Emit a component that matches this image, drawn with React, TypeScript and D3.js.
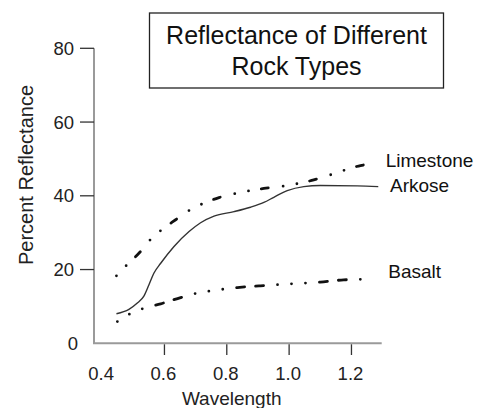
import React from "react";
import * as d3 from "d3";

// values
const limestoneWave = [0.446, 0.479, 0.518, 0.556, 0.593, 0.636, 0.679, 0.721, 0.775, 0.844, 0.919, 0.972, 1.015, 1.079, 1.122, 1.165, 1.229, 1.28];
const limestone = [18.3, 21.2, 24.4, 28.2, 30.9, 33.5, 36, 37.8, 39.5, 40.9, 42, 42.5, 43.1, 44.3, 45.4, 46.6, 48.2, 48.8];

const arkoseWave = [0.446, 0.486, 0.513, 0.534, 0.55, 0.566, 0.588, 0.63, 0.679, 0.716, 0.759, 0.823, 0.876, 0.919, 0.951, 0.994, 1.047, 1.1, 1.218, 1.286];
const arkose = [8.0, 9.2, 10.9, 12.8, 15.8, 19, 21.7, 26.2, 30.3, 32.7, 34.5, 35.7, 36.9, 38.2, 39.6, 41.4, 42.5, 42.8, 42.7, 42.5];

const basaltWave = [0.449, 0.492, 0.534, 0.588, 0.652, 0.705, 0.748, 0.834, 0.908, 1.004, 1.1, 1.175, 1.271];
const basalt = [5.9, 8.1, 9.5, 10.7, 12.4, 13.6, 14.2, 15.1, 15.6, 16.1, 16.6, 17.2, 17.4];

const xTicks = [0.4, 0.6, 0.8, 1.0, 1.2];
const xTickMarks = [0.6, 0.8, 1.0, 1.2];
const yTicks = [0, 20, 40, 60, 80];
const yTickMarks = [20, 40, 60, 80];
const titleLines = ["Reflectance of Different", "Rock Types"];

const font = "'Liberation Sans', Arial, sans-serif";

export default function App() {
  const w = 482;
  const h = 408;

  const x = d3.scaleLinear().domain([0.374, 1.297]).range([94, 381.7]);
  const y = d3.scaleLinear().domain([0, 80]).range([343.3, 48.3]);

  const line = d3
    .line<[number, number]>()
    .x((d) => x(d[0]))
    .y((d) => y(d[1]))
    .curve(d3.curveMonotoneX);

  const pts = (xs: number[], ys: number[]) => xs.map((v, i) => [v, ys[i]] as [number, number]);

  return (
    <div style={{ position: "absolute", left: 0, top: 0 }}>
      <svg width={w} height={h} style={{ display: "block", background: "#fff" }} fontFamily={font}>
        {/* axes */}
        <line x1={x.range()[0]} x2={x.range()[0]} y1={y(80)} y2={y(0)} stroke="#9a9a9a" strokeWidth={2} />
        <line x1={x.range()[0] - 1} x2={x.range()[1]} y1={y(0)} y2={y(0)} stroke="#9a9a9a" strokeWidth={2} />

        {yTickMarks.map((t) => (
          <line key={"yt" + t} x1={80} x2={94} y1={y(t)} y2={y(t)} stroke="#333" strokeWidth={1.3} />
        ))}
        {yTicks.map((t) => (
          <text key={"yl" + t} x={t === 0 ? 78 : 74} y={y(t)} dy="0.36em" textAnchor="end" fontSize={18.5} fill="#222">
            {t}
          </text>
        ))}

        {xTickMarks.map((t) => (
          <line key={"xt" + t} x1={x(t)} x2={x(t)} y1={y(0) + 1} y2={355} stroke="#333" strokeWidth={1.3} />
        ))}
        {xTicks.map((t) => (
          <text key={"xl" + t} x={x(t) - 1} y={380} textAnchor="middle" fontSize={18.5} fill="#222">
            {t.toFixed(1)}
          </text>
        ))}

        <text x={231.7} y={405} textAnchor="middle" fontSize={19} fill="#222">
          Wavelength
        </text>
        <text transform="translate(33,175) rotate(-90)" textAnchor="middle" fontSize={20} fill="#222">
          Percent Reflectance
        </text>

        {/* series */}
        <path
          d={line(pts(limestoneWave, limestone)) ?? ""}
          fill="none"
          stroke="#111"
          strokeWidth={2.8}
          strokeLinecap="round"
          strokeDasharray="0 14 0 13 7 15"
        />
        <path d={line(pts(arkoseWave, arkose)) ?? ""} fill="none" stroke="#333" strokeWidth={1.4} />
        <path
          d={line(pts(basaltWave, basalt)) ?? ""}
          fill="none"
          stroke="#111"
          strokeWidth={2.8}
          strokeLinecap="round"
          strokeDasharray="0 14 0 14 0 14 8 11 8 14"
        />

        <text x={385.7} y={166.7} fontSize={19} fill="#111">Limestone</text>
        <text x={390} y={191.7} fontSize={19} fill="#111">Arkose</text>
        <text x={388.3} y={278.3} fontSize={19} fill="#111">Basalt</text>

        {/* title box */}
        <rect x={149.5} y={13} width={294} height={75} fill="#fff" stroke="#222" strokeWidth={1.3} />
        {titleLines.map((s, i) => (
          <text key={s} x={296.5} y={43.5 + i * 31} textAnchor="middle" fontSize={25} fill="#111">
            {s}
          </text>
        ))}
      </svg>
    </div>
  );
}
